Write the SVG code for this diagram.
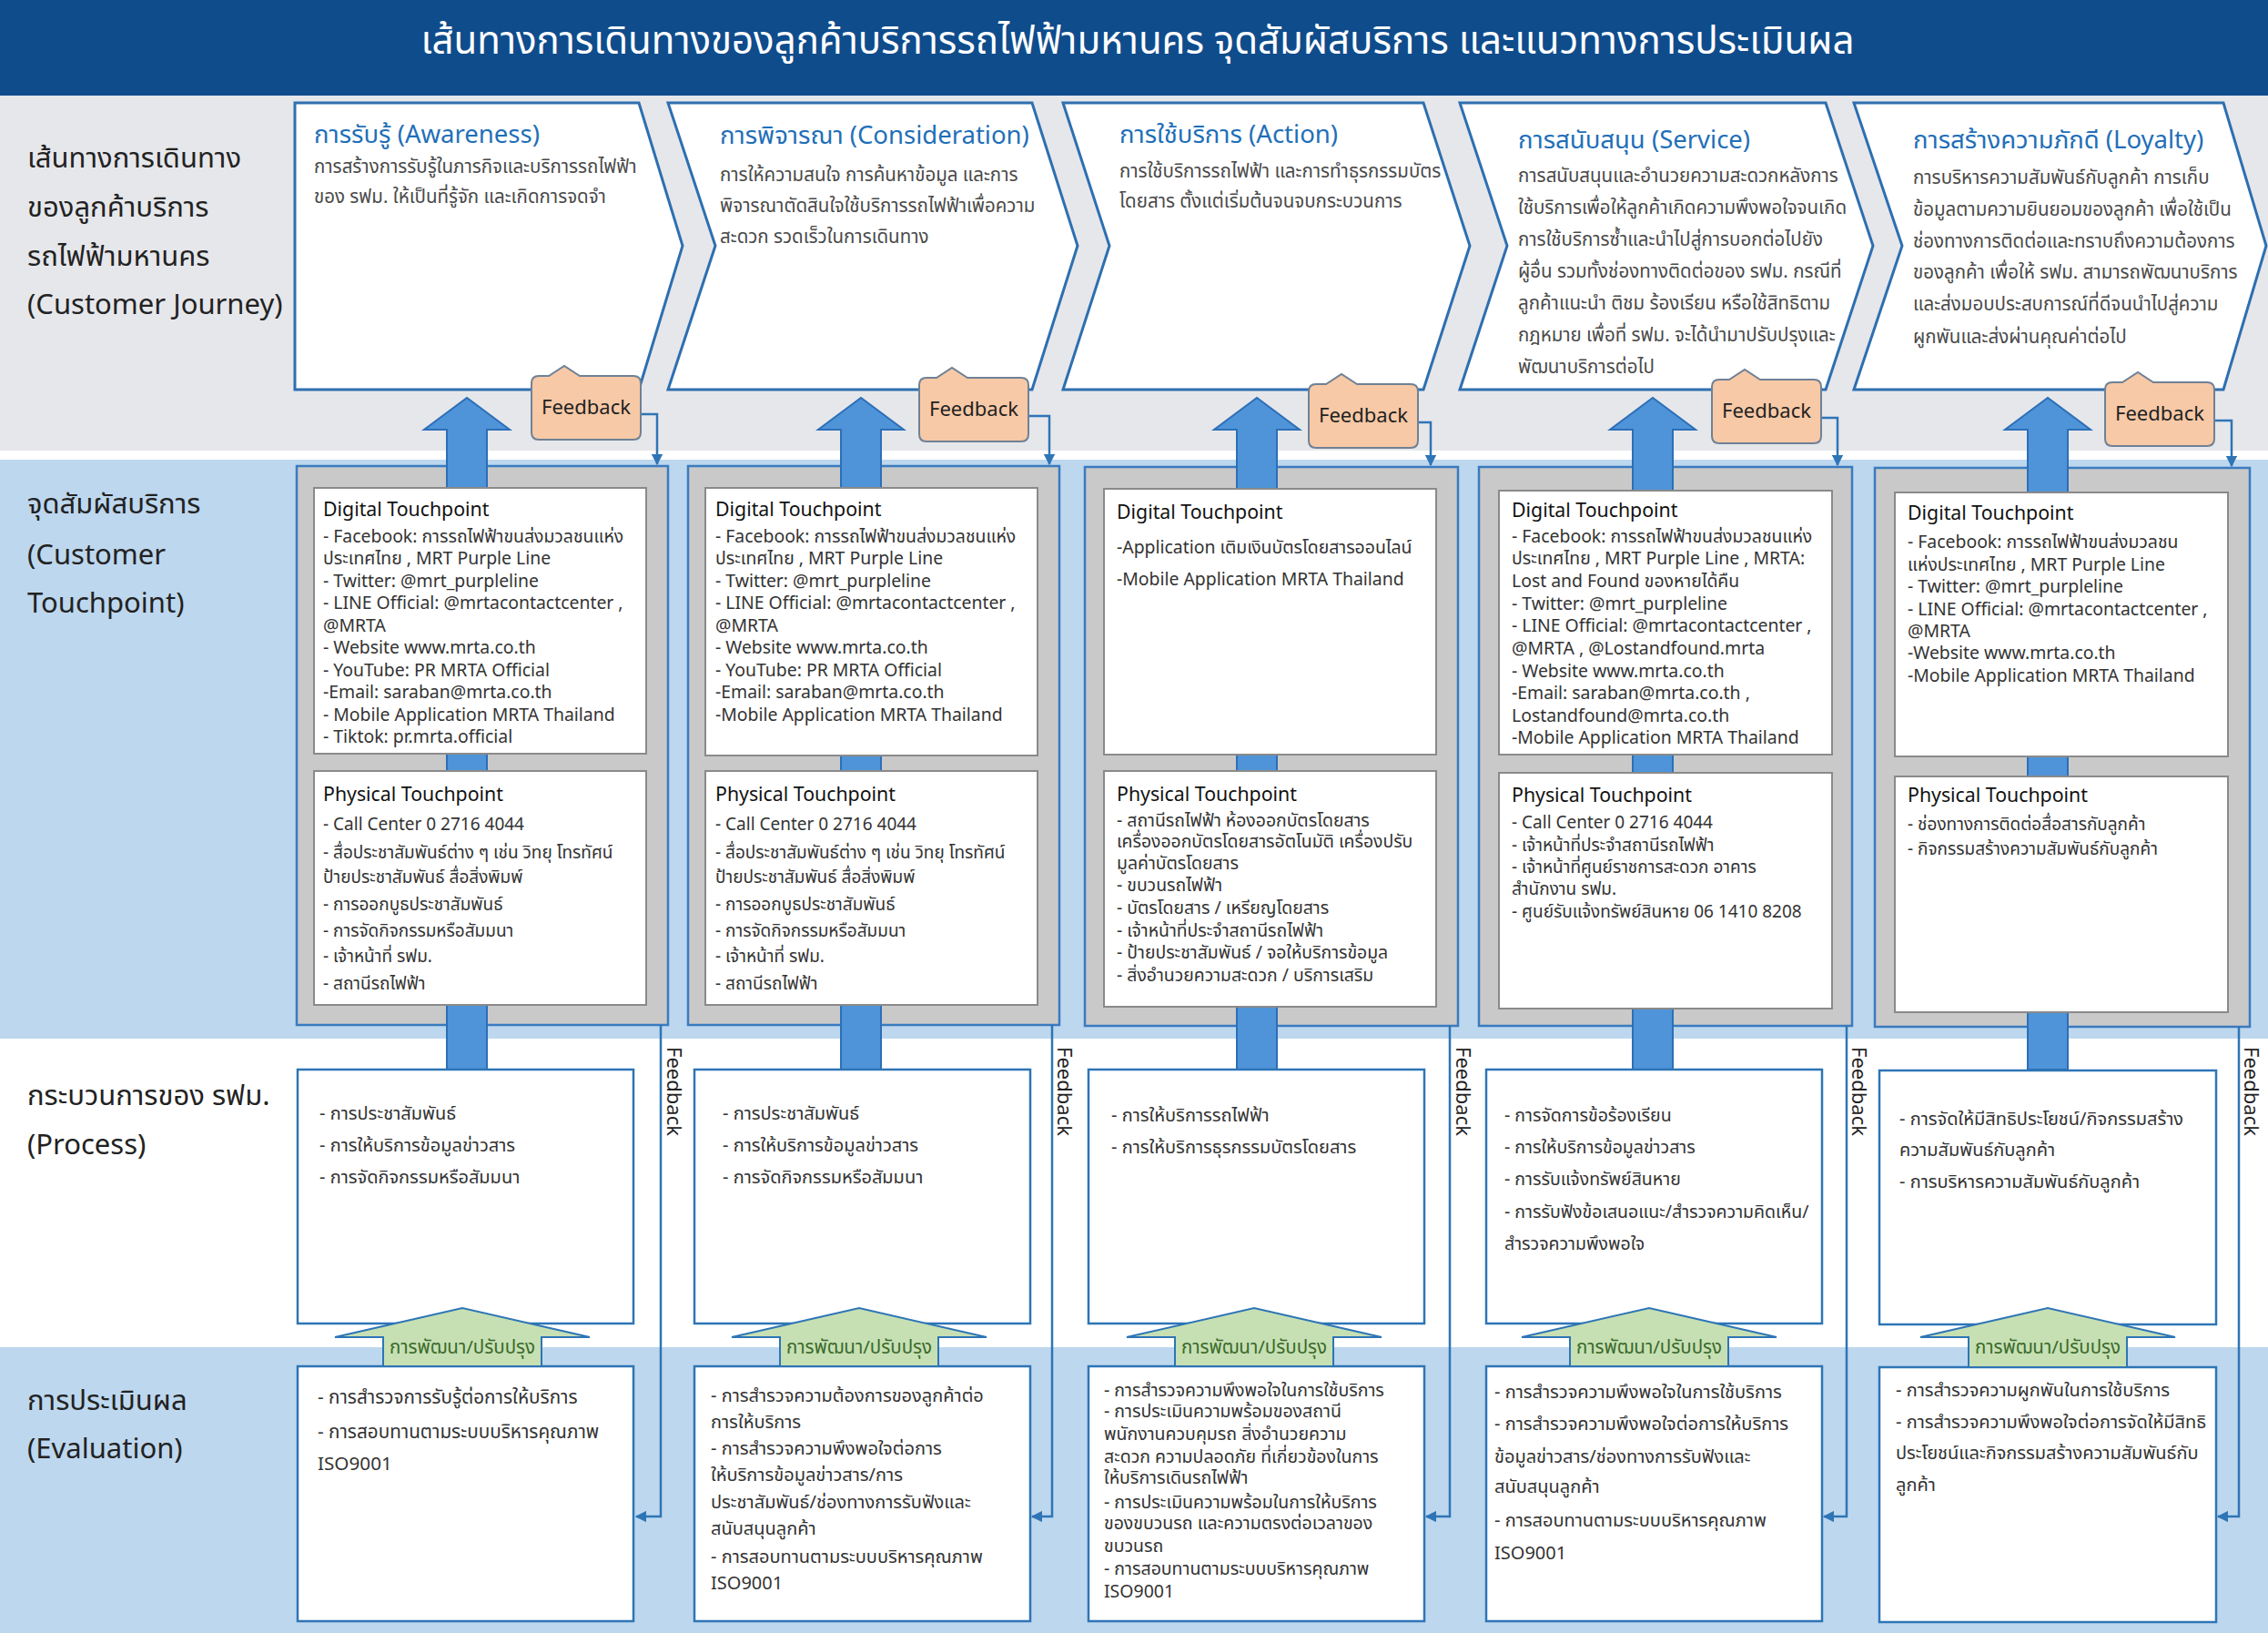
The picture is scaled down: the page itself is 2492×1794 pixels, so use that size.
<svg xmlns="http://www.w3.org/2000/svg" width="2492" height="1794" viewBox="0 0 2492 1794">
<defs>
<style>
text{font-family:"Noto Sans Thai","Noto Sans","DejaVu Sans",sans-serif}
.lbl{font-size:31px;fill:#222}
.title{font-size:42px;fill:#fff}
.ttl{font-size:27.5px;fill:#1f6fb8}
.dsc{font-size:20.5px;fill:#4a4a4a}
.tph{font-size:21.3px;fill:#111}
.tpt{font-size:19.4px;fill:#333}
.tps{font-size:19px;fill:#333}
.prc{font-size:20px;fill:#333}
.prs{font-size:19.5px;fill:#333}
.fbt{font-size:22px;fill:#222}
.dev{font-size:20.5px;fill:#3b6a2a}
.chev{fill:#fff;stroke:#2e6fb0;stroke-width:3}
.frame{fill:#c9c9c9;stroke:#3a7bc0;stroke-width:2.5}
.inner{fill:#fff;stroke:#8a8a8a;stroke-width:2}
.box{fill:#fff;stroke:#2e75b6;stroke-width:2.5}
.fb{fill:#f7c9a6;stroke:#6f8196;stroke-width:2}
.big{fill:#4f94d8;stroke:#2d6fb7;stroke-width:2}
.grn{fill:#c6e0b4;stroke:#2e75b6;stroke-width:2}
.line{fill:none;stroke:#2e75b6;stroke-width:2.5}
</style>
<marker id="ah" viewBox="0 0 10 10" refX="9" refY="5" markerWidth="5" markerHeight="5" orient="auto">
<path d="M0,0 L10,5 L0,10 Z" fill="#2e75b6"/>
</marker>
<path id="fbshape" d="M8,0 L19,0 L36,-11 L53,0 L112,0 Q120,0 120,8 L120,62 Q120,70 112,70 L8,70 Q0,70 0,62 L0,8 Q0,0 8,0 Z"/>
</defs>

<!-- background bands -->
<g id="bands">
<rect x="0" y="0" width="2492" height="1794" fill="#fff"/>
<rect x="0" y="0" width="2492" height="105" fill="#0f4c8c"/>
<rect x="0" y="105" width="2492" height="390" fill="#e6e7eb"/>
<rect x="0" y="505" width="2492" height="636" fill="#bdd7ee"/>
<rect x="0" y="1480" width="2492" height="314" fill="#bdd7ee"/>
</g>

<g id="title">
<text class="title" x="1250" y="59" text-anchor="middle">เส้นทางการเดินทางของลูกค้าบริการรถไฟฟ้ามหานคร จุดสัมผัสบริการ และแนวทางการประเมินผล</text>
</g>

<g id="row-labels">
<text class="lbl"><tspan x="30" y="184">เส้นทางการเดินทาง</tspan><tspan x="30" y="238">ของลูกค้าบริการ</tspan><tspan x="30" y="292">รถไฟฟ้ามหานคร</tspan><tspan x="30" y="345">(Customer Journey)</tspan></text>
<text class="lbl"><tspan x="30" y="564">จุดสัมผัสบริการ</tspan><tspan x="30" y="620">(Customer</tspan><tspan x="30" y="673">Touchpoint)</tspan></text>
<text class="lbl"><tspan x="30" y="1214">กระบวนการของ รฟม.</tspan><tspan x="30" y="1268">(Process)</tspan></text>
<text class="lbl"><tspan x="30" y="1549">การประเมินผล</tspan><tspan x="30" y="1602">(Evaluation)</tspan></text>
</g>

<!-- journey chevrons -->
<g id="journey-awareness">
<path class="chev" d="M324,113 L702,113 L750,270 L702,428 L324,428 Z"/>
<text class="ttl" x="345" y="157">การรับรู้ (Awareness)</text>
<text class="dsc"><tspan x="345" y="190">การสร้างการรับรู้ในภารกิจและบริการรถไฟฟ้า</tspan><tspan x="345" y="223">ของ รฟม. ให้เป็นที่รู้จัก และเกิดการจดจำ</tspan></text>
</g>
<g id="journey-consideration">
<path class="chev" d="M734,113 L1134,113 L1184,270 L1134,428 L734,428 L786,270 Z"/>
<text class="ttl" x="791" y="158">การพิจารณา (Consideration)</text>
<text class="dsc"><tspan x="791" y="199">การให้ความสนใจ การค้นหาข้อมูล และการ</tspan><tspan x="791" y="233">พิจารณาตัดสินใจใช้บริการรถไฟฟ้าเพื่อความ</tspan><tspan x="791" y="267">สะดวก รวดเร็วในการเดินทาง</tspan></text>
</g>
<g id="journey-action">
<path class="chev" d="M1168,113 L1564,113 L1615,270 L1564,428 L1168,428 L1219,270 Z"/>
<text class="ttl" x="1230" y="157">การใช้บริการ (Action)</text>
<text class="dsc"><tspan x="1230" y="195">การใช้บริการรถไฟฟ้า และการทำธุรกรรมบัตร</tspan><tspan x="1230" y="228">โดยสาร ตั้งแต่เริ่มต้นจนจบกระบวนการ</tspan></text>
</g>
<g id="journey-service">
<path class="chev" d="M1604,113 L2006,113 L2058,270 L2006,428 L1604,428 L1656,270 Z"/>
<text class="ttl" x="1668" y="163">การสนับสนุน (Service)</text>
<text class="dsc"><tspan x="1668" y="200">การสนับสนุนและอำนวยความสะดวกหลังการ</tspan><tspan x="1668" y="235">ใช้บริการเพื่อให้ลูกค้าเกิดความพึงพอใจจนเกิด</tspan><tspan x="1668" y="270">การใช้บริการซ้ำและนำไปสู่การบอกต่อไปยัง</tspan><tspan x="1668" y="305">ผู้อื่น รวมทั้งช่องทางติดต่อของ รฟม. กรณีที่</tspan><tspan x="1668" y="340">ลูกค้าแนะนำ ติชม ร้องเรียน หรือใช้สิทธิตาม</tspan><tspan x="1668" y="375">กฎหมาย เพื่อที่ รฟม. จะได้นำมาปรับปรุงและ</tspan><tspan x="1668" y="410">พัฒนาบริการต่อไป</tspan></text>
</g>
<g id="journey-loyalty">
<path class="chev" d="M2037,113 L2443,113 L2490,270 L2443,428 L2037,428 L2090,270 Z"/>
<text class="ttl" x="2102" y="163">การสร้างความภักดี (Loyalty)</text>
<text class="dsc"><tspan x="2102" y="202">การบริหารความสัมพันธ์กับลูกค้า การเก็บ</tspan><tspan x="2102" y="237">ข้อมูลตามความยินยอมของลูกค้า เพื่อใช้เป็น</tspan><tspan x="2102" y="272">ช่องทางการติดต่อและทราบถึงความต้องการ</tspan><tspan x="2102" y="306">ของลูกค้า เพื่อให้ รฟม. สามารถพัฒนาบริการ</tspan><tspan x="2102" y="341">และส่งมอบประสบการณ์ที่ดีจนนำไปสู่ความ</tspan><tspan x="2102" y="377">ผูกพันและส่งผ่านคุณค่าต่อไป</tspan></text>
</g>

<!-- touchpoint frames -->
<g id="touchpoint-frames">
<rect class="frame" x="326" y="512" width="408" height="614"/>
<rect class="frame" x="756" y="512" width="408" height="614"/>
<rect class="frame" x="1192" y="513" width="410" height="614"/>
<rect class="frame" x="1625" y="513" width="410" height="614"/>
<rect class="frame" x="2060" y="514" width="412" height="614"/>
</g>

<!-- connectors -->
<g id="connectors">
<path class="big" d="M491,1175 V472 H466 L513,437 L560,472 H535 V1175 Z"/>
<path class="big" d="M924,1175 V472 H899 L946,437 L993,472 H968 V1175 Z"/>
<path class="big" d="M1359,1175 V472 H1334 L1381,437 L1428,472 H1403 V1175 Z"/>
<path class="big" d="M1794,1175 V472 H1769 L1816,437 L1863,472 H1838 V1175 Z"/>
<path class="big" d="M2228,1175 V472 H2203 L2250,437 L2297,472 H2272 V1175 Z"/>

<path class="line" marker-end="url(#ah)" d="M704,455 H722 V510"/>
<path class="line" marker-end="url(#ah)" d="M1130,457 H1153 V510"/>
<path class="line" marker-end="url(#ah)" d="M1558,464 H1572 V511"/>
<path class="line" marker-end="url(#ah)" d="M2001,459 H2019 V511"/>
<path class="line" marker-end="url(#ah)" d="M2433,462 H2452 V512"/>

<path class="line" marker-end="url(#ah)" d="M726,1126 V1666 H699"/>
<path class="line" marker-end="url(#ah)" d="M1156,1126 V1666 H1134"/>
<path class="line" marker-end="url(#ah)" d="M1593,1127 V1666 H1567"/>
<path class="line" marker-end="url(#ah)" d="M2029,1127 V1666 H2004"/>
<path class="line" marker-end="url(#ah)" d="M2460,1128 V1666 H2437"/>

<text class="fbt" transform="translate(733,1150) rotate(90)">Feedback</text>
<text class="fbt" transform="translate(1162,1150) rotate(90)">Feedback</text>
<text class="fbt" transform="translate(1600,1150) rotate(90)">Feedback</text>
<text class="fbt" transform="translate(2035,1150) rotate(90)">Feedback</text>
<text class="fbt" transform="translate(2466,1150) rotate(90)">Feedback</text>
</g>

<!-- touchpoints -->
<g id="touchpoint-awareness">
<rect class="inner" x="345" y="536" width="365" height="292"/>
<text class="tph" x="355" y="567">Digital Touchpoint</text>
<text class="tpt"><tspan x="355" y="596">- Facebook: การรถไฟฟ้าขนส่งมวลชนแห่ง</tspan><tspan x="355" y="620">ประเทศไทย , MRT Purple Line</tspan><tspan x="355" y="645">- Twitter: @mrt_purpleline</tspan><tspan x="355" y="669">- LINE Official: @mrtacontactcenter ,</tspan><tspan x="355" y="694">@MRTA</tspan><tspan x="355" y="718">- Website www.mrta.co.th</tspan><tspan x="355" y="743">- YouTube: PR MRTA Official</tspan><tspan x="355" y="767">-Email: saraban@mrta.co.th</tspan><tspan x="355" y="792">- Mobile Application MRTA Thailand</tspan><tspan x="355" y="816">- Tiktok: pr.mrta.official</tspan></text>
<rect class="inner" x="345" y="847" width="365" height="257"/>
<text class="tph" x="355" y="880">Physical Touchpoint</text>
<text class="tps"><tspan x="355" y="912">- Call Center 0 2716 4044</tspan><tspan x="355" y="943">- สื่อประชาสัมพันธ์ต่าง ๆ เช่น วิทยุ โทรทัศน์</tspan><tspan x="355" y="970">ป้ายประชาสัมพันธ์ สื่อสิ่งพิมพ์</tspan><tspan x="355" y="1000">- การออกบูธประชาสัมพันธ์</tspan><tspan x="355" y="1029">- การจัดกิจกรรมหรือสัมมนา</tspan><tspan x="355" y="1057">- เจ้าหน้าที่ รฟม.</tspan><tspan x="355" y="1087">- สถานีรถไฟฟ้า</tspan></text>
</g>
<g id="touchpoint-consideration">
<rect class="inner" x="775" y="536" width="365" height="294"/>
<text class="tph" x="786" y="567">Digital Touchpoint</text>
<text class="tpt"><tspan x="786" y="596">- Facebook: การรถไฟฟ้าขนส่งมวลชนแห่ง</tspan><tspan x="786" y="620">ประเทศไทย , MRT Purple Line</tspan><tspan x="786" y="645">- Twitter: @mrt_purpleline</tspan><tspan x="786" y="669">- LINE Official: @mrtacontactcenter ,</tspan><tspan x="786" y="694">@MRTA</tspan><tspan x="786" y="718">- Website www.mrta.co.th</tspan><tspan x="786" y="743">- YouTube: PR MRTA Official</tspan><tspan x="786" y="767">-Email: saraban@mrta.co.th</tspan><tspan x="786" y="792">-Mobile Application MRTA Thailand</tspan></text>
<rect class="inner" x="775" y="847" width="365" height="257"/>
<text class="tph" x="786" y="880">Physical Touchpoint</text>
<text class="tps"><tspan x="786" y="912">- Call Center 0 2716 4044</tspan><tspan x="786" y="943">- สื่อประชาสัมพันธ์ต่าง ๆ เช่น วิทยุ โทรทัศน์</tspan><tspan x="786" y="970">ป้ายประชาสัมพันธ์ สื่อสิ่งพิมพ์</tspan><tspan x="786" y="1000">- การออกบูธประชาสัมพันธ์</tspan><tspan x="786" y="1029">- การจัดกิจกรรมหรือสัมมนา</tspan><tspan x="786" y="1057">- เจ้าหน้าที่ รฟม.</tspan><tspan x="786" y="1087">- สถานีรถไฟฟ้า</tspan></text>
</g>
<g id="touchpoint-action">
<rect class="inner" x="1213" y="537" width="365" height="292"/>
<text class="tph" x="1227" y="570">Digital Touchpoint</text>
<text class="tpt"><tspan x="1227" y="608">-Application เติมเงินบัตรโดยสารออนไลน์</tspan><tspan x="1227" y="643">-Mobile Application MRTA Thailand</tspan></text>
<rect class="inner" x="1213" y="847" width="365" height="259"/>
<text class="tph" x="1227" y="880">Physical Touchpoint</text>
<text class="tpt"><tspan x="1227" y="908">- สถานีรถไฟฟ้า ห้องออกบัตรโดยสาร</tspan><tspan x="1227" y="931">เครื่องออกบัตรโดยสารอัตโนมัติ เครื่องปรับ</tspan><tspan x="1227" y="955">มูลค่าบัตรโดยสาร</tspan><tspan x="1227" y="979">- ขบวนรถไฟฟ้า</tspan><tspan x="1227" y="1004">- บัตรโดยสาร / เหรียญโดยสาร</tspan><tspan x="1227" y="1029">- เจ้าหน้าที่ประจำสถานีรถไฟฟ้า</tspan><tspan x="1227" y="1053">- ป้ายประชาสัมพันธ์ / จอให้บริการข้อมูล</tspan><tspan x="1227" y="1078">- สิ่งอำนวยความสะดวก / บริการเสริม</tspan></text>
</g>
<g id="touchpoint-service">
<rect class="inner" x="1647" y="539" width="366" height="290"/>
<text class="tph" x="1661" y="568">Digital Touchpoint</text>
<text class="tpt"><tspan x="1661" y="596">- Facebook: การรถไฟฟ้าขนส่งมวลชนแห่ง</tspan><tspan x="1661" y="620">ประเทศไทย , MRT Purple Line , MRTA:</tspan><tspan x="1661" y="645">Lost and Found ของหายได้คืน</tspan><tspan x="1661" y="670">- Twitter: @mrt_purpleline</tspan><tspan x="1661" y="694">- LINE Official: @mrtacontactcenter ,</tspan><tspan x="1661" y="719">@MRTA , @Lostandfound.mrta</tspan><tspan x="1661" y="744">- Website www.mrta.co.th</tspan><tspan x="1661" y="768">-Email: saraban@mrta.co.th ,</tspan><tspan x="1661" y="793">Lostandfound@mrta.co.th</tspan><tspan x="1661" y="817">-Mobile Application MRTA Thailand</tspan></text>
<rect class="inner" x="1647" y="849" width="366" height="259"/>
<text class="tph" x="1661" y="881">Physical Touchpoint</text>
<text class="tps"><tspan x="1661" y="910">- Call Center 0 2716 4044</tspan><tspan x="1661" y="935">- เจ้าหน้าที่ประจำสถานีรถไฟฟ้า</tspan><tspan x="1661" y="959">- เจ้าหน้าที่ศูนย์ราชการสะดวก อาคาร</tspan><tspan x="1661" y="983">สำนักงาน รฟม.</tspan><tspan x="1661" y="1008">- ศูนย์รับแจ้งทรัพย์สินหาย 06 1410 8208</tspan></text>
</g>
<g id="touchpoint-loyalty">
<rect class="inner" x="2082" y="541" width="366" height="290"/>
<text class="tph" x="2096" y="571">Digital Touchpoint</text>
<text class="tpt"><tspan x="2096" y="602">- Facebook: การรถไฟฟ้าขนส่งมวลชน</tspan><tspan x="2096" y="627">แห่งประเทศไทย , MRT Purple Line</tspan><tspan x="2096" y="651">- Twitter: @mrt_purpleline</tspan><tspan x="2096" y="676">- LINE Official: @mrtacontactcenter ,</tspan><tspan x="2096" y="700">@MRTA</tspan><tspan x="2096" y="724">-Website www.mrta.co.th</tspan><tspan x="2096" y="749">-Mobile Application MRTA Thailand</tspan></text>
<rect class="inner" x="2082" y="853" width="366" height="259"/>
<text class="tph" x="2096" y="881">Physical Touchpoint</text>
<text class="tps"><tspan x="2096" y="912">- ช่องทางการติดต่อสื่อสารกับลูกค้า</tspan><tspan x="2096" y="939">- กิจกรรมสร้างความสัมพันธ์กับลูกค้า</tspan></text>
</g>

<!-- process boxes -->
<g id="process-awareness">
<rect class="box" x="327" y="1175" width="369" height="279"/>
<text class="prc"><tspan x="351" y="1230">- การประชาสัมพันธ์</tspan><tspan x="351" y="1265">- การให้บริการข้อมูลข่าวสาร</tspan><tspan x="351" y="1300">- การจัดกิจกรรมหรือสัมมนา</tspan></text>
</g>
<g id="process-consideration">
<rect class="box" x="763" y="1175" width="369" height="279"/>
<text class="prc"><tspan x="794" y="1230">- การประชาสัมพันธ์</tspan><tspan x="794" y="1265">- การให้บริการข้อมูลข่าวสาร</tspan><tspan x="794" y="1300">- การจัดกิจกรรมหรือสัมมนา</tspan></text>
</g>
<g id="process-action">
<rect class="box" x="1196" y="1175" width="369" height="279"/>
<text class="prc"><tspan x="1221" y="1232">- การให้บริการรถไฟฟ้า</tspan><tspan x="1221" y="1267">- การให้บริการธุรกรรมบัตรโดยสาร</tspan></text>
</g>
<g id="process-service">
<rect class="box" x="1633" y="1175" width="369" height="279"/>
<text class="prs"><tspan x="1653" y="1232">- การจัดการข้อร้องเรียน</tspan><tspan x="1653" y="1267">- การให้บริการข้อมูลข่าวสาร</tspan><tspan x="1653" y="1302">- การรับแจ้งทรัพย์สินหาย</tspan><tspan x="1653" y="1338">- การรับฟังข้อเสนอแนะ/สำรวจความคิดเห็น/</tspan><tspan x="1653" y="1373">สำรวจความพึงพอใจ</tspan></text>
</g>
<g id="process-loyalty">
<rect class="box" x="2065" y="1176" width="370" height="279"/>
<text class="prc"><tspan x="2087" y="1236">- การจัดให้มีสิทธิประโยชน์/กิจกรรมสร้าง</tspan><tspan x="2087" y="1270">ความสัมพันธ์กับลูกค้า</tspan><tspan x="2087" y="1305">- การบริหารความสัมพันธ์กับลูกค้า</tspan></text>
</g>

<!-- evaluation boxes -->
<g id="evaluation-awareness">
<rect class="box" x="327" y="1501" width="369" height="280"/>
<text class="prc" style="font-size:20.7px"><tspan x="349" y="1542">- การสำรวจการรับรู้ต่อการให้บริการ</tspan><tspan x="349" y="1580">- การสอบทานตามระบบบริหารคุณภาพ</tspan><tspan x="349" y="1615">ISO9001</tspan></text>
</g>
<g id="evaluation-consideration">
<rect class="box" x="763" y="1501" width="369" height="280"/>
<text class="prc"><tspan x="781" y="1540">- การสำรวจความต้องการของลูกค้าต่อ</tspan><tspan x="781" y="1569">การให้บริการ</tspan><tspan x="781" y="1598">- การสำรวจความพึงพอใจต่อการ</tspan><tspan x="781" y="1627">ให้บริการข้อมูลข่าวสาร/การ</tspan><tspan x="781" y="1657">ประชาสัมพันธ์/ช่องทางการรับฟังและ</tspan><tspan x="781" y="1686">สนับสนุนลูกค้า</tspan><tspan x="781" y="1717">- การสอบทานตามระบบบริหารคุณภาพ</tspan><tspan x="781" y="1746">ISO9001</tspan></text>
</g>
<g id="evaluation-action">
<rect class="box" x="1196" y="1501" width="369" height="280"/>
<text class="prs"><tspan x="1213" y="1534">- การสำรวจความพึงพอใจในการใช้บริการ</tspan><tspan x="1213" y="1557">- การประเมินความพร้อมของสถานี</tspan><tspan x="1213" y="1582">พนักงานควบคุมรถ สิ่งอำนวยความ</tspan><tspan x="1213" y="1607">สะดวก ความปลอดภัย ที่เกี่ยวข้องในการ</tspan><tspan x="1213" y="1630">ให้บริการเดินรถไฟฟ้า</tspan><tspan x="1213" y="1657">- การประเมินความพร้อมในการให้บริการ</tspan><tspan x="1213" y="1680">ของขบวนรถ และความตรงต่อเวลาของ</tspan><tspan x="1213" y="1705">ขบวนรถ</tspan><tspan x="1213" y="1730">- การสอบทานตามระบบบริหารคุณภาพ</tspan><tspan x="1213" y="1755">ISO9001</tspan></text>
</g>
<g id="evaluation-service">
<rect class="box" x="1633" y="1501" width="369" height="280"/>
<text class="prc"><tspan x="1642" y="1536">- การสำรวจความพึงพอใจในการใช้บริการ</tspan><tspan x="1642" y="1571">- การสำรวจความพึงพอใจต่อการให้บริการ</tspan><tspan x="1642" y="1607">ข้อมูลข่าวสาร/ช่องทางการรับฟังและ</tspan><tspan x="1642" y="1640">สนับสนุนลูกค้า</tspan><tspan x="1642" y="1677">- การสอบทานตามระบบบริหารคุณภาพ</tspan><tspan x="1642" y="1713">ISO9001</tspan></text>
</g>
<g id="evaluation-loyalty">
<rect class="box" x="2065" y="1502" width="370" height="280"/>
<text class="prc"><tspan x="2083" y="1534">- การสำรวจความผูกพันในการใช้บริการ</tspan><tspan x="2083" y="1569">- การสำรวจความพึงพอใจต่อการจัดให้มีสิทธิ</tspan><tspan x="2083" y="1603">ประโยชน์และกิจกรรมสร้างความสัมพันธ์กับ</tspan><tspan x="2083" y="1638">ลูกค้า</tspan></text>
</g>

<!-- improvement arrows -->
<g id="improve-arrows">
<path class="grn" d="M421,1501 V1469 H368 L508,1437 L648,1469 H595 V1501 Z"/>
<text class="dev" x="508" y="1487" text-anchor="middle">การพัฒนา/ปรับปรุง</text>
<path class="grn" d="M857,1501 V1469 H804 L944,1437 L1084,1469 H1031 V1501 Z"/>
<text class="dev" x="944" y="1487" text-anchor="middle">การพัฒนา/ปรับปรุง</text>
<path class="grn" d="M1291,1501 V1469 H1238 L1378,1437 L1518,1469 H1465 V1501 Z"/>
<text class="dev" x="1378" y="1487" text-anchor="middle">การพัฒนา/ปรับปรุง</text>
<path class="grn" d="M1725,1501 V1469 H1672 L1812,1437 L1952,1469 H1899 V1501 Z"/>
<text class="dev" x="1812" y="1487" text-anchor="middle">การพัฒนา/ปรับปรุง</text>
<path class="grn" d="M2163,1502 V1469 H2110 L2250,1437 L2390,1469 H2337 V1502 Z"/>
<text class="dev" x="2250" y="1487" text-anchor="middle">การพัฒนา/ปรับปรุง</text>
</g>

<!-- feedback callouts -->
<g id="feedback-awareness"><use href="#fbshape" class="fb" x="584" y="413"/><text class="fbt" x="644" y="455" text-anchor="middle">Feedback</text></g>
<g id="feedback-consideration"><use href="#fbshape" class="fb" x="1010" y="415"/><text class="fbt" x="1070" y="457" text-anchor="middle">Feedback</text></g>
<g id="feedback-action"><use href="#fbshape" class="fb" x="1438" y="422"/><text class="fbt" x="1498" y="464" text-anchor="middle">Feedback</text></g>
<g id="feedback-service"><use href="#fbshape" class="fb" x="1881" y="417"/><text class="fbt" x="1941" y="459" text-anchor="middle">Feedback</text></g>
<g id="feedback-loyalty"><use href="#fbshape" class="fb" x="2313" y="420"/><text class="fbt" x="2373" y="462" text-anchor="middle">Feedback</text></g>
</svg>
